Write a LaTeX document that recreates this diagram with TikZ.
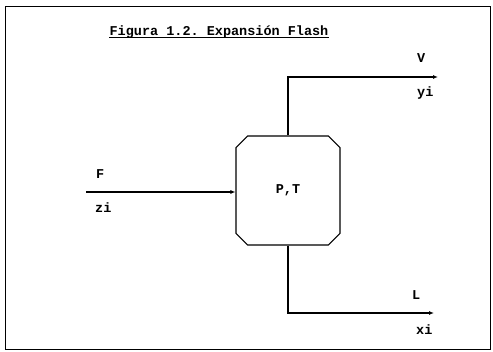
\documentclass[tikz,border=0pt]{standalone}
\usepackage{fontspec}
\setmonofont{Liberation Mono}
\usetikzlibrary{shapes.misc,arrows.meta}

\begin{document}
\begin{tikzpicture}[x=1pt,y=-1pt,
  every node/.style={font=\ttfamily\bfseries\fontsize{13.5}{16}\selectfont,inner sep=0pt},
  pipe/.style={draw,line width=1.1pt,-{Latex[length=5pt,width=4pt]}},
  lbl/.style={anchor=base west}]
\useasboundingbox (0,0) rectangle (493,352);
\draw[line width=1pt] (5,7) rectangle (490,350);
\node[anchor=base] (title) at (219,36) {Figura 1.2. Expansión Flash};
\draw[line width=0.9pt] ([yshift=-1.5pt]title.base west) -- ([yshift=-1.5pt]title.base east);
\node[draw,line width=1.1pt,chamfered rectangle,chamfered rectangle xsep=6pt,chamfered rectangle ysep=6pt,
  minimum width=104pt,minimum height=109pt] (flash) at (288,190.5) {P,T};
\coordinate (feed) at (86,192);
\coordinate (vap) at (438,77);
\coordinate (liq) at (434,313);
\draw[pipe] (feed) -- (flash.west |- feed);
\draw[pipe] (flash.north) |- (vap);
\draw[pipe] (flash.south) |- (liq);
\node[lbl] (fF) at (96,179) {F};
\node[lbl] (fz) at (95,213) {zi};
\node[lbl] (vV) at (417,63) {V};
\node[lbl] (vy) at (417,97) {yi};
\node[lbl] (lL) at (412,300) {L};
\node[lbl] (lx) at (416,335) {xi};
\end{tikzpicture}
\end{document}
